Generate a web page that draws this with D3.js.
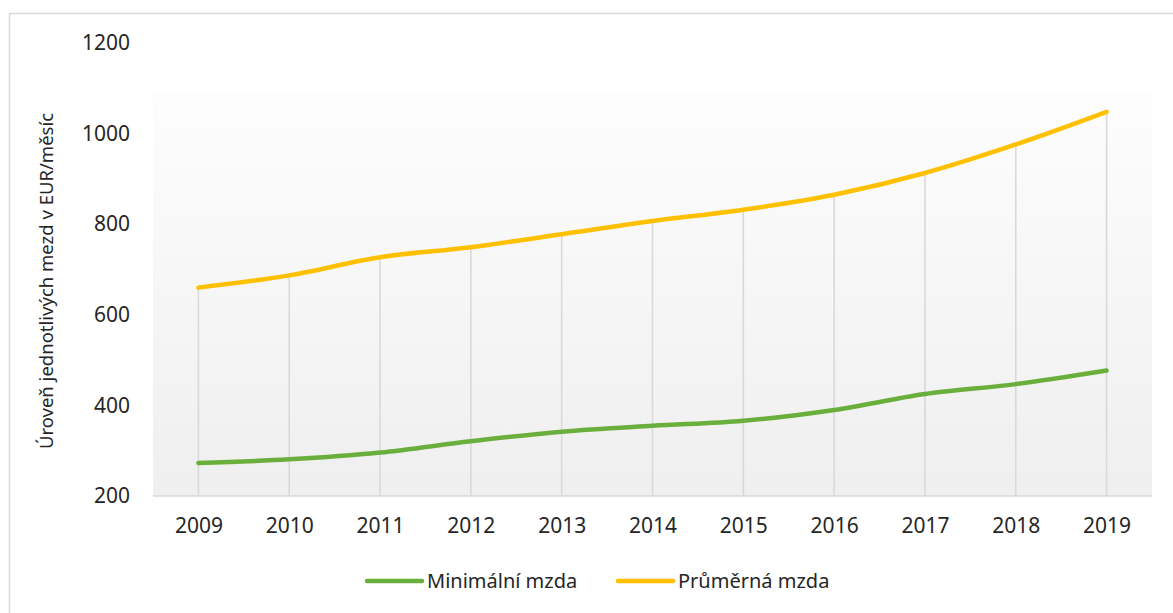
<!DOCTYPE html>
<html>
<head>
<meta charset="utf-8">
<script src="https://cdn.jsdelivr.net/npm/d3@7"></script>
<style>
  body { margin: 0; background: #fff; }
  text { font-family: "Noto Sans", "Open Sans", sans-serif; fill: #262626; }
</style>
</head>
<body>
<svg id="chart" width="1173" height="613"></svg>
<script>
/*
 * Data
 */
var YEARS = ['2009', '2010', '2011', '2012', '2013', '2014', '2015', '2016', '2017', '2018', '2019'],
    MIN_WAGE = [273, 281, 296, 321, 342, 355, 366, 390, 425, 447, 477],
    AVG_WAGE = [660, 687, 727, 749, 778, 807, 832, 865, 913, 976, 1048],
    Y_TICKS = [200, 400, 600, 800, 1000, 1200];

var SERIES_NAMES = ['Minimální mzda', 'Průměrná mzda'],
    SERIES_COLORS = ['#6aaf3c', '#ffc000'];

/*
 * Layout
 */
var PLOT_LEFT = 153,
    PLOT_RIGHT = 1152,
    PLOT_TOP = 93,
    AXIS_Y = 496,
    GRID_COLOR = '#d9d9d9';

var svg = d3.select('#chart');

// outer chart border
svg.append('rect')
    .attr('x', 9.5).attr('y', 13.5)
    .attr('width', 1200).attr('height', 700)
    .attr('fill', '#fff')
    .attr('stroke', GRID_COLOR)
    .attr('stroke-width', 1.5);

var x = d3.scalePoint()
    .domain(YEARS)
    .range([PLOT_LEFT, PLOT_RIGHT])
    .padding(0.5);

var y = d3.scaleLinear()
    .domain([200, 1200])
    .range([AXIS_Y, 43]);

// plot area background
var grad = svg.append('defs').append('linearGradient')
    .attr('id', 'plot-bg')
    .attr('x1', 0).attr('y1', 0).attr('x2', 0).attr('y2', 1);
grad.append('stop').attr('offset', '0%').attr('stop-color', '#fdfdfd');
grad.append('stop').attr('offset', '100%').attr('stop-color', '#efefef');

svg.append('rect')
    .attr('x', PLOT_LEFT).attr('y', PLOT_TOP)
    .attr('width', PLOT_RIGHT - PLOT_LEFT)
    .attr('height', AXIS_Y - PLOT_TOP)
    .attr('fill', 'url(#plot-bg)');

// drop lines from the top series down to the axis
svg.append('g').selectAll('line')
    .data(YEARS)
    .enter().append('line')
    .attr('x1', function (d) { return x(d); })
    .attr('x2', function (d) { return x(d); })
    .attr('y1', function (d, i) { return y(Math.max(MIN_WAGE[i], AVG_WAGE[i])); })
    .attr('y2', AXIS_Y)
    .attr('stroke', GRID_COLOR)
    .attr('stroke-width', 1.6);

// x axis
var xAxis = svg.append('g')
    .attr('transform', 'translate(0,' + AXIS_Y + ')')
    .call(d3.axisBottom(x).tickSize(0).tickPadding(22));
xAxis.select('.domain')
    .attr('d', 'M' + PLOT_LEFT + ',0H' + PLOT_RIGHT)
    .attr('stroke', GRID_COLOR)
    .attr('stroke-width', 1.6);
xAxis.selectAll('text')
    .attr('font-size', 21)
    .attr('font-family', '"Noto Sans", sans-serif')
    .attr('fill', '#262626');

// y axis (labels only)
var yAxis = svg.append('g')
    .attr('transform', 'translate(130,0)')
    .call(d3.axisLeft(y).tickValues(Y_TICKS).tickFormat(d3.format('d')).tickSize(0).tickPadding(0));
yAxis.select('.domain').remove();
yAxis.selectAll('text')
    .attr('font-size', 21)
    .attr('font-family', '"Noto Sans", sans-serif')
    .attr('fill', '#262626');

svg.append('text')
    .attr('transform', 'translate(53,281) rotate(-90)')
    .attr('text-anchor', 'middle')
    .attr('font-size', 18.5)
    .attr('fill', '#404040')
    .text('Úroveň jednotlivých mezd v EUR/měsíc');

// series lines
var line = d3.line()
    .x(function (d, i) { return x(YEARS[i]); })
    .y(function (d) { return y(d); })
    .curve(d3.curveMonotoneX);

[MIN_WAGE, AVG_WAGE].forEach(function (vals, k) {
    svg.append('path')
        .datum(vals)
        .attr('d', line)
        .attr('fill', 'none')
        .attr('stroke', SERIES_COLORS[k])
        .attr('stroke-width', 4.5)
        .attr('stroke-linecap', 'round')
        .attr('stroke-linejoin', 'round');
});

// legend
var LEGEND_X = [367, 618];
var legend = svg.append('g').selectAll('g')
    .data(SERIES_NAMES)
    .enter().append('g')
    .attr('transform', function (d, i) { return 'translate(' + LEGEND_X[i] + ',581)'; });
legend.append('line')
    .attr('x1', 0).attr('x2', 55)
    .attr('stroke', function (d, i) { return SERIES_COLORS[i]; })
    .attr('stroke-width', 4.5)
    .attr('stroke-linecap', 'round');
legend.append('text')
    .attr('x', 60)
    .attr('dy', '0.35em')
    .attr('font-size', 20)
    .text(function (d) { return d; });
</script>
</body>
</html>
